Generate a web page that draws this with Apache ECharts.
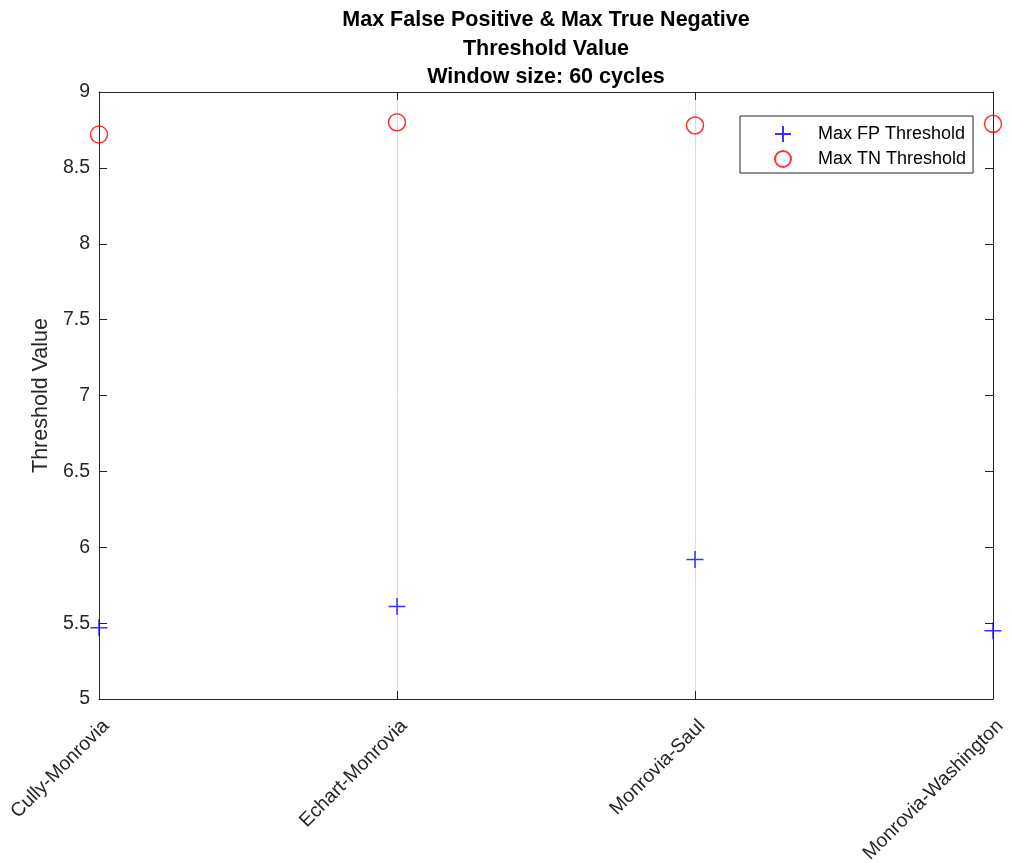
<!DOCTYPE html>
<html>
<head>
<meta charset="utf-8">
<script src="https://cdn.jsdelivr.net/npm/echarts@6/dist/echarts.min.js"></script>
<style>html,body{margin:0;padding:0;background:#fff}#c{width:1012px;height:863px}</style>
</head>
<body>
<div id="c"></div>
<script>
const categories = ['Cully-Monrovia', 'Echart-Monrovia', 'Monrovia-Saul', 'Monrovia-Washington'];
const maxFP = [5.47, 5.61, 5.92, 5.45];
const maxTN = [8.72, 8.80, 8.78, 8.79];
const yTicks = { min: 5, max: 9, interval: 0.5 };
const titleText = 'Max False Positive & Max True Negative\nThreshold Value\nWindow size: 60 cycles';
const yName = 'Threshold Value';
const seriesNames = ['Max FP Threshold', 'Max TN Threshold'];

const FONT = "'Liberation Sans', Arial, Helvetica, sans-serif";
const AX = '#262626';
const plus = 'path://M0,5L10,5M5,0L5,10';

const chart = echarts.init(document.getElementById('c'), null, { renderer: 'canvas' });
chart.setOption({
  animation: false,
  backgroundColor: '#fff',
  title: {
    text: titleText,
    left: 546, top: 6, padding: 0, textAlign: 'center',
    textStyle: { fontFamily: FONT, fontSize: 21.5, fontWeight: 'bold', color: '#000', lineHeight: 28.5 }
  },
  grid: { left: 99, right: 19, top: 92, bottom: 164, containLabel: false, outerBoundsMode: 'none' },
  legend: {
    orient: 'vertical', left: 740, top: 116,
    padding: [9, 7, 5, 34], itemGap: 7, itemWidth: 60, itemHeight: 16,
    backgroundColor: '#fff', borderColor: AX, borderWidth: 1, borderRadius: 0,
    textStyle: { fontFamily: FONT, fontSize: 18, lineHeight: 18, color: '#000' },
    data: seriesNames
  },
  xAxis: [{
    type: 'category', data: categories, boundaryGap: false,
    axisLine: { show: true, lineStyle: { color: AX, width: 1 } },
    axisTick: { show: true, inside: true, length: 8, alignWithLabel: true, lineStyle: { color: AX } },
    axisLabel: { rotate: 45, fontFamily: FONT, fontSize: 19.5, color: AX, margin: 17, interval: 0, verticalAlign: 'top' },
    splitLine: { show: true, lineStyle: { color: '#dcdcdc', width: 1 } }
  }, {
    type: 'category', data: categories, boundaryGap: false, position: 'top',
    axisLine: { show: true, lineStyle: { color: AX, width: 1 } },
    axisTick: { show: true, inside: true, length: 8, lineStyle: { color: AX } },
    axisLabel: { show: false }, splitLine: { show: false }
  }],
  yAxis: [{
    type: 'value', min: yTicks.min, max: yTicks.max, interval: yTicks.interval,
    name: yName, nameLocation: 'middle', nameGap: 42,
    nameTextStyle: { fontFamily: FONT, fontSize: 21.5, color: AX },
    axisLine: { show: true, lineStyle: { color: AX, width: 1 } },
    axisTick: { show: true, inside: true, length: 8, lineStyle: { color: AX } },
    axisLabel: { fontFamily: FONT, fontSize: 19.5, color: AX, margin: 9 },
    splitLine: { show: false }
  }, {
    type: 'value', min: yTicks.min, max: yTicks.max, interval: yTicks.interval, position: 'right',
    axisLine: { show: true, lineStyle: { color: AX, width: 1 } },
    axisTick: { show: true, inside: true, length: 8, lineStyle: { color: AX } },
    axisLabel: { show: false }, splitLine: { show: false }
  }],
  series: [{
    name: seriesNames[0], type: 'scatter', data: maxFP, clip: false,
    symbol: plus, symbolSize: 17,
    itemStyle: { color: '#0000ff', borderColor: '#0000ff', borderWidth: 1.5 }
  }, {
    name: seriesNames[1], type: 'scatter', data: maxTN, clip: false,
    symbol: 'circle', symbolSize: 17,
    itemStyle: { color: 'rgba(0,0,0,0)', borderColor: '#ff0000', borderWidth: 1.5 }
  }]
});
</script>
</body>
</html>
